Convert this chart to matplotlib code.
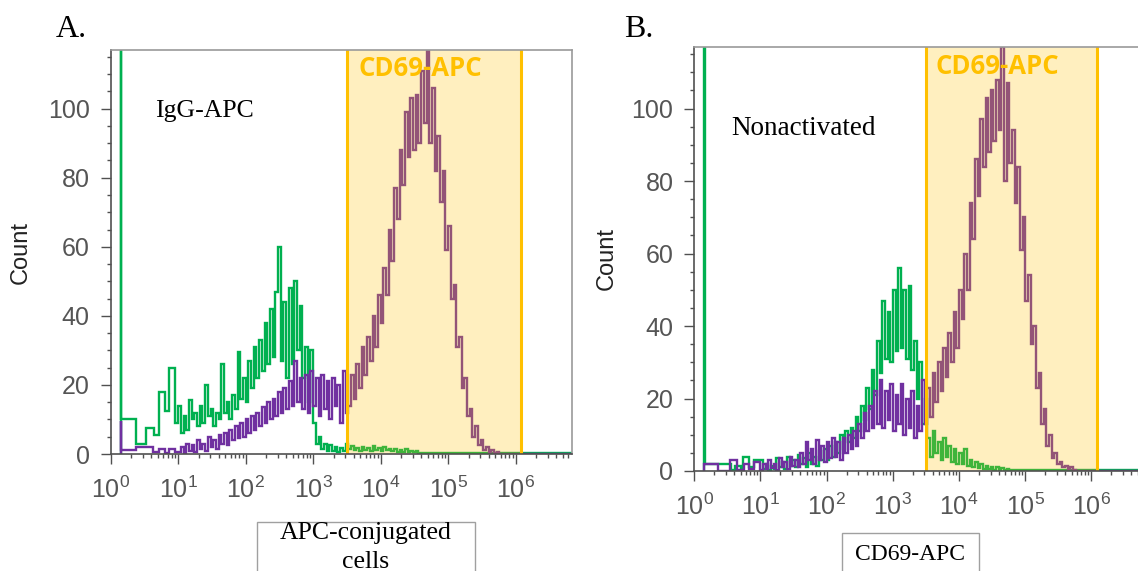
import numpy as np
import matplotlib
matplotlib.use('Agg')
import matplotlib.pyplot as plt
from matplotlib.patches import Rectangle
from matplotlib.ticker import LogLocator, MultipleLocator, NullFormatter

plt.rcParams['font.family'] = ['Liberation Sans', 'DejaVu Sans']
plt.rcParams['mathtext.fontset'] = 'custom'
plt.rcParams['mathtext.rm'] = 'Liberation Sans'
plt.rcParams['mathtext.it'] = 'Liberation Sans:italic'
plt.rcParams['mathtext.bf'] = 'Liberation Sans:bold'

# histogram grid (log10 of fluorescence)
grid_start = 1.0
grid_step = 0.04
x_end = 6.83
gate = (3.5, 6.08)
ymax = 117

# ---- panel A : IgG-APC ----
a_green_low_edges = [0.148, 0.16, 0.375, 0.52, 0.64, 0.72, 0.80, 0.87, 0.95]
a_green_low = [400, 10, 3, 7.4, 5.5, 18, 12.5, 25, 9]
a_green_grid = [14, 6, 11, 7, 15.6, 10, 12, 8, 14, 9, 20, 11, 13, 8, 12, 10,
                26, 12, 15, 10, 17, 13, 29.5, 16, 22, 15, 27, 19, 31, 22, 33, 24,
                38, 26, 42, 28, 47, 60, 27, 44, 22, 48, 26, 50, 30, 43, 22, 31,
                15, 30, 9, 3, 5, 1.5, 3, 1, 2.5, 1, 2, 0.5, 1.8, 1, 3,
                1.5, 2.2, 1.2, 1.8, 1, 2, 1.3, 1.7, 1, 2.3, 1.2, 1.6, 0.9, 1.9,
                1.1, 1.5, 0.8, 1.4, 0.7, 1.2, 0.6, 1.5, 0.5, 1, 0.5, 0.9, 0.4]
a_green_tail = 0.4

a_purple_low_edges = [0.148, 0.16, 0.375, 0.62, 0.72, 0.80, 0.87, 0.95]
a_purple_low = [9.5, 1.3, 2.0, 0.5, 1.5, 0.3, 1.5, 0.5]
a_purple_grid = [0.5, 2, 0.3, 3, 1, 2.5, 0.5, 4, 1.5, 3, 1, 5, 2, 4, 1.5, 5.5,
                 3, 6, 2.5, 7, 4, 8, 4.5, 9, 5, 10, 6, 11, 7, 12, 8, 13.5,
                 9, 15, 10, 16, 11, 18, 12, 19, 13, 21, 14, 27, 15, 22, 13, 23,
                 12, 24, 14, 22, 11, 23, 13, 21, 10, 22, 14, 20, 9, 24, 12,
                 14, 23, 16, 26, 19, 31, 23, 34, 27, 40, 31, 46, 38, 54, 46, 65,
                 56, 77, 68, 88, 78, 99, 86, 103, 88, 104, 90, 111, 96, 117, 90, 106,
                 82, 92, 73, 82, 59, 66, 45, 49, 31, 34, 19, 22, 11, 13, 5, 8,
                 2.5, 4, 1.2, 2, 0.6, 1.2, 0.3, 0.5]
a_purple_tail = 0

# ---- panel B : Nonactivated ----
b_green_low_edges = [0.14, 0.155, 0.55, 0.62, 0.70, 0.74, 0.83, 0.90]
b_green_low = [400, 1.9, 0.3, 1.5, 0.5, 4, 1.2, 3]
b_green_grid = [3, 0.5, 2, 0.3, 1.5, 0.5, 3.5, 1, 2.5, 0.5, 4, 1.5, 3, 1, 4.5, 2,
                3.5, 1, 5, 2, 4, 1.5, 5.5, 3, 6, 3, 7, 4, 8, 5, 10, 6,
                11, 8, 12, 9, 15, 11, 18, 14, 23, 17, 28, 21, 36, 27, 47, 31,
                44, 30, 50, 33, 56, 34, 50, 31, 51, 28, 36, 20, 30, 13, 20,
                9, 4, 11, 5, 8, 3, 9, 4, 7, 2.5, 6, 2, 5, 2, 6, 1.5,
                3, 1, 2.5, 0.8, 1.8, 0.6, 1.5, 0.5, 1.2, 0.4, 1, 0.3, 0.8, 0.3, 0.6]
b_green_tail = 0.3

b_purple_low_edges = [0.15, 0.365, 0.54, 0.64, 0.75, 0.82, 0.90]
b_purple_low = [1.8, 0, 3, 0.3, 2, 0.5, 2.5]
b_purple_grid = [0.3, 2, 0.5, 3, 0.8, 2, 0.3, 3.5, 1, 2.5, 0.5, 4, 1.5, 3, 1, 5,
                 2, 8, 3, 6, 2, 8.5, 3, 7, 2.5, 8, 3.5, 9, 4, 8, 3, 9,
                 5, 10, 6, 11, 7, 13, 9, 16, 11, 18, 12, 22, 13, 25, 12, 22,
                 14, 24, 11, 21, 13, 24, 10, 20, 12, 22, 9, 18, 11, 25, 13,
                 23, 15, 27, 19, 30, 22, 34, 26, 38, 30, 44, 34, 50, 42, 60, 50,
                 74, 64, 86, 76, 97, 84, 103, 88, 105, 91, 108, 94, 117, 80, 107, 85,
                 94, 74, 84, 61, 70, 47, 54, 35, 40, 23, 27, 13, 17, 7, 10, 3.5,
                 5, 1.8, 2.5, 1, 1.5, 0.5, 1, 0.3]
b_purple_tail = 0

green = '#00B050'
purple = '#7030A0'
gold = '#FFC000'
tick_col = '#555555'

W, H = 1138, 571


def bins(low_edges, low_vals, grid_vals, tail):
    n = len(grid_vals)
    grid = [grid_start + grid_step * i for i in range(n + 1)]
    edges = np.array(low_edges + grid + [x_end])
    vals = np.array(low_vals + grid_vals + [tail], dtype=float)
    return vals, 10 ** edges


def px(x, y):
    return x / W, 1 - y / H


def style_axes(ax):
    ax.set_xscale('log')
    ax.set_xlim(1, 10 ** x_end)
    ax.set_ylim(0, ymax)
    ax.set_xticks([10 ** k for k in range(7)])
    ax.set_xticklabels([r'$\mathregular{10^{%d}}$' % k for k in range(7)])
    ax.xaxis.set_minor_locator(LogLocator(base=10, subs=np.arange(2, 10), numticks=20))
    ax.xaxis.set_minor_formatter(NullFormatter())
    ax.set_yticks([0, 20, 40, 60, 80, 100])
    ax.yaxis.set_minor_locator(MultipleLocator(5))
    ax.tick_params(which='major', length=7, width=1, color='#505050',
                   labelsize=18, labelcolor=tick_col)
    ax.tick_params(axis='y', which='major', pad=8)
    ax.tick_params(axis='x', which='major', pad=9)
    ax.tick_params(which='minor', length=3.2, width=1, color='#505050')
    for side in ['left', 'bottom']:
        ax.spines[side].set_color('#505050')
        ax.spines[side].set_linewidth(1.2)
    for side in ['top', 'right']:
        ax.spines[side].set_color('#9a9a9a')
        ax.spines[side].set_linewidth(1.2)
    for s in ax.spines.values():
        s.set_zorder(6)


def draw_panel(ax, gv, ge, pv, pe):
    ax.stairs(gv, ge, baseline=0, color=green, lw=1.7, zorder=2)
    ax.stairs(pv, pe, baseline=0, color=purple, lw=1.7, zorder=2.1)
    ax.axvspan(10 ** gate[0], 10 ** gate[1], color=gold, alpha=0.25, lw=0, zorder=3)
    for g in gate:
        ax.axvline(10 ** g, color=gold, lw=2.2, zorder=4)
    ax.text(10 ** 4.585, 109.6, 'CD69-APC', ha='center', va='baseline',
            color=gold, fontsize=18.5, fontweight='bold', family='Open Sans', zorder=5)
    style_axes(ax)


fig = plt.figure(figsize=(W / 100, H / 100), dpi=100)

axA = fig.add_axes([110.7 / W, 117 / H, 461 / W, 404 / H])
gv, ge = bins(a_green_low_edges, a_green_low, a_green_grid, a_green_tail)
pv, pe = bins(a_purple_low_edges, a_purple_low, a_purple_grid, a_purple_tail)
draw_panel(axA, gv, ge, pv, pe)
axA.text(10 ** 0.656, 97.6, 'IgG-APC', ha='left', va='baseline',
         family='Liberation Serif', fontsize=18.5, color='black')

axB = fig.add_axes([694.3 / W, 100 / H, 452.1 / W, 424 / H])
gv, ge = bins(b_green_low_edges, b_green_low, b_green_grid, b_green_tail)
pv, pe = bins(b_purple_low_edges, b_purple_low, b_purple_grid, b_purple_tail)
draw_panel(axB, gv, ge, pv, pe)
axB.text(10 ** 0.557, 92.6, 'Nonactivated', ha='left', va='baseline',
         family='Liberation Serif', fontsize=19.5, color='black')

# y labels
fig.text(*px(20.3, 253), 'Count', rotation=90, ha='center', va='center',
         fontsize=17, color='#222222')
fig.text(*px(606.7, 258), 'Count', rotation=90, ha='center', va='center',
         fontsize=17, color='#222222')

# panel letters
fig.text(*px(55.4, 36.7), 'A.', ha='left', va='baseline',
         family='Liberation Serif', fontsize=23)
fig.text(*px(624.5, 36.7), 'B.', ha='left', va='baseline',
         family='Liberation Serif', fontsize=23)

# x label boxes
x0, y0 = px(256.5, 600)
x1, y1 = px(474.9, 522)
fig.patches.append(Rectangle((x0, y0), x1 - x0, y1 - y0, transform=fig.transFigure,
                             fill=False, edgecolor='#a0a0a0', lw=1))
fig.text(*px(365.7, 533), 'APC-conjugated', ha='center', va='center',
         family='Liberation Serif', fontsize=18.5)
fig.text(*px(365.7, 562), 'cells', ha='center', va='center',
         family='Liberation Serif', fontsize=18.5)

x0, y0 = px(841.6, 600)
x1, y1 = px(978.6, 532.7)
fig.patches.append(Rectangle((x0, y0), x1 - x0, y1 - y0, transform=fig.transFigure,
                             fill=False, edgecolor='#a0a0a0', lw=1))
fig.text(*px(910.2, 555), 'CD69-APC', ha='center', va='center',
         family='Liberation Serif', fontsize=17)

fig.savefig('out.png', dpi=100)
